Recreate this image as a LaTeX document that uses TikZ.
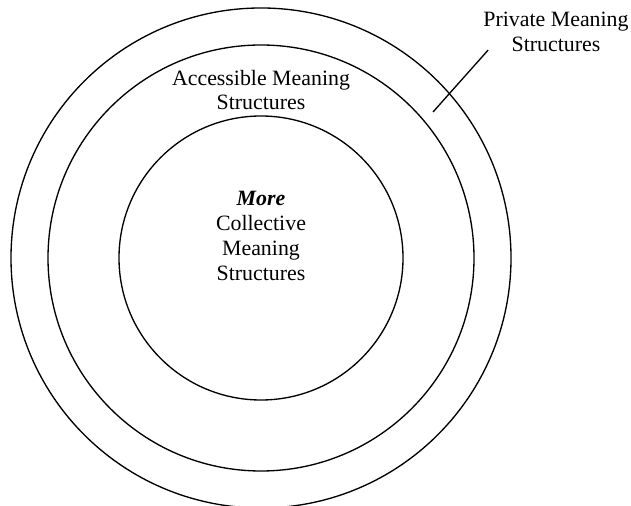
\documentclass[tikz,border=0pt]{standalone}
\usepackage{fontspec}
\setmainfont{Liberation Serif}
\usetikzlibrary{positioning}

\begin{document}
\begin{tikzpicture}[
    x=0.75pt, y=0.75pt,
    every node/.style={font=\fontsize{16.4}{18.6}\selectfont, align=center, inner sep=0pt},
    ring/.style={draw=black, line width=1pt},
    pointer/.style={draw=black, line width=1pt},
]

% Frame
\useasboundingbox (0,0) rectangle (631,506);

% Rings
\coordinate (centre) at (261,248);
\draw[ring] (centre) circle (250);
\draw[ring] (centre) circle (213);
\draw[ring] (centre) circle (142);

% Labels
\node (private) at (556,474) {Private Meaning\\Structures};
\node (accessible) at (261,416) {Accessible Meaning\\Structures};
\node (collective) at (261,270) {\textbf{\textit{More}}\\Collective\\Meaning\\Structures};

% Pointer to outer ring
\coordinate (outerband) at (433,394);
\draw[pointer] ([shift={(5,2)}]private.south west) -- (outerband);

\end{tikzpicture}
\end{document}
